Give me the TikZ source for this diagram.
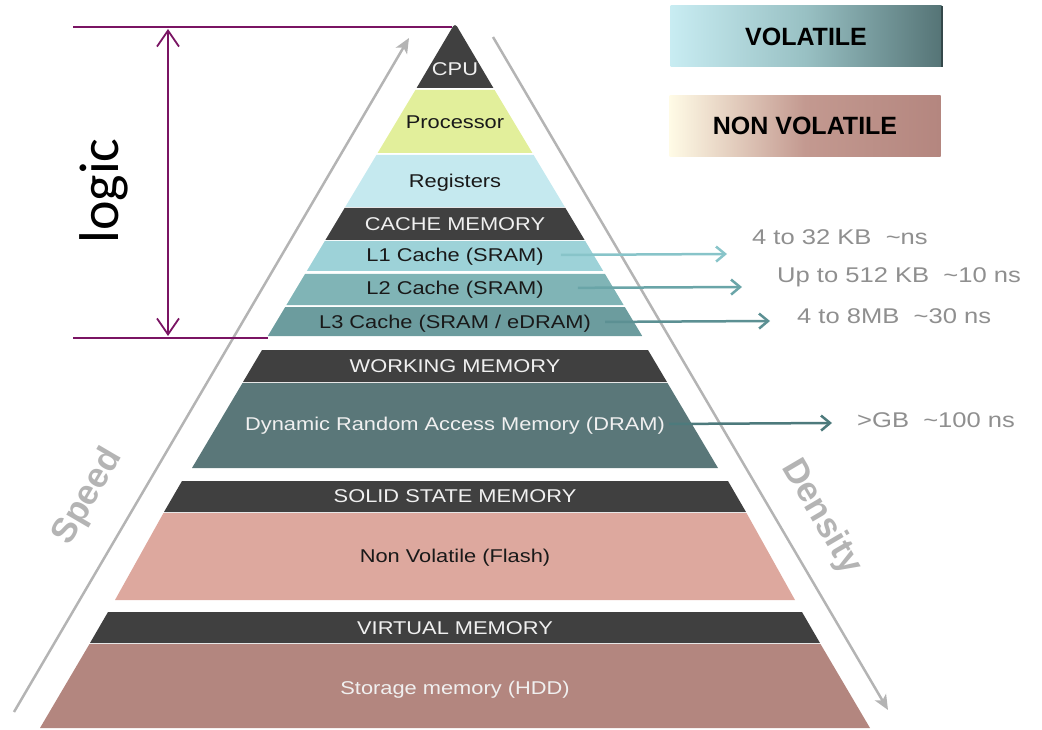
\documentclass[tikz,border=0pt]{standalone}
\usepackage{fontspec}
\setmainfont{Liberation Sans}
\newfontfamily\bandfont[FakeStretch=1.18]{Liberation Sans}
\newfontfamily\infofont[FakeStretch=1.2]{Liberation Sans}
\newfontfamily\logicfont{Carlito}
\usetikzlibrary{arrows.meta}

\definecolor{headgray}{HTML}{404040}
\definecolor{procgreen}{HTML}{E2EF9B}
\definecolor{regcyan}{HTML}{C5E9EF}
\definecolor{lonecol}{HTML}{9DD2D8}
\definecolor{ltwocol}{HTML}{80B4B6}
\definecolor{lthreecol}{HTML}{6C9C9E}
\definecolor{dramcol}{HTML}{5A7779}
\definecolor{flashcol}{HTML}{DDA89E}
\definecolor{hddcol}{HTML}{B3867F}
\definecolor{infogray}{HTML}{8F8F8F}
\definecolor{sidegray}{HTML}{B4B4B4}
\definecolor{logicpurple}{HTML}{7A1463}
\definecolor{arrowone}{HTML}{88C4C9}
\definecolor{arrowtwo}{HTML}{6AA5A8}
\definecolor{arrowthree}{HTML}{5C9093}
\definecolor{arrowfour}{HTML}{4D7A7C}
\definecolor{volleft}{HTML}{C8ECF2}
\definecolor{volmid}{HTML}{98C0C3}
\definecolor{volright}{HTML}{557476}
\definecolor{voledge}{HTML}{34484A}
\definecolor{nvleft}{HTML}{FFFBE6}
\definecolor{nvmid}{HTML}{C39990}
\definecolor{nvright}{HTML}{B4867F}

\tikzstyle{bandtext} = [font=\bandfont\fontsize{18.5}{22}\selectfont, text=black!90, text height=13pt, text depth=0pt, inner sep=2pt]
\tikzstyle{headtext} = [bandtext, text=white!94!black]
\tikzstyle{infotext} = [font=\infofont\fontsize{21.3}{25}\selectfont, text=infogray, anchor=west, inner sep=0pt, text height=15pt, text depth=0pt]
\tikzstyle{infoarrow} = [line width=2.5pt, -{Straight Barb[length=9pt,width=15pt]}]
\tikzstyle{sidearrow} = [sidegray, line width=2.5pt, -{Stealth[length=15pt,width=13pt,inset=4pt]}]
\tikzstyle{sidetext} = [text=sidegray, font=\bfseries\fontsize{35}{42}\selectfont]
\tikzstyle{legendbox} = [minimum width=271pt, minimum height=61pt, inner sep=0pt, font=\bfseries\fontsize{25}{30}\selectfont]
\tikzstyle{logicarrow} = [logicpurple, line width=1.8pt, {Straight Barb[length=16pt,width=22pt]}-{Straight Barb[length=16pt,width=22pt]}]

\begin{document}
\begin{tikzpicture}[x=1pt, y=-1pt]
    \useasboundingbox (0,0) rectangle (1042,730);

    % speed and density
    \coordinate (speedtail) at (14,712);
    \coordinate (speedtip) at (409,38);
    \coordinate (densitytail) at (493,37);
    \coordinate (densitytip) at (888,710);
    \draw [sidearrow] (speedtail) -- (speedtip);
    \draw [sidearrow] (densitytail) -- (densitytip);
    \node (speed) [sidetext, rotate=59.6] at (88,497) {Speed};
    \node (density) [sidetext, rotate=-59.6] at (821,517) {Density};

    % pyramid
    \fill [headgray] (416.6,88) [rounded corners=4pt] -- (455,23) [sharp corners] -- (493.4,88) -- cycle;
    \fill [procgreen] (415.4,90) -- (494.6,90) -- (532.4,153) -- (377.6,153) -- cycle;
    \fill [regcyan] (376.4,155) -- (533.6,155) -- (564.8,207) -- (345.2,207) -- cycle;
    \fill [headgray] (344.6,208) -- (565.4,208) -- (584.6,240) -- (325.4,240) -- cycle;
    \fill [lonecol] (324.8,241) -- (585.2,241) -- (603.2,271) -- (306.8,271) -- cycle;
    \fill [ltwocol] (305,274) -- (605,274) -- (623.6,305) -- (286.4,305) -- cycle;
    \fill [lthreecol] (285.2,307) -- (624.8,307) -- (642.2,336) -- (267.8,336) -- cycle;
    \fill [headgray] (262,350) -- (648,350) -- (667,382) -- (243,382) -- cycle;
    \fill [dramcol] (242.5,383) -- (667.5,383) -- (718,468) -- (192,468) -- cycle;
    \fill [headgray] (182,481) -- (728,481) -- (746,512) -- (164,512) -- cycle;
    \fill [flashcol] (163.5,513) -- (746.5,513) -- (795,600) -- (115,600) -- cycle;
    \fill [headgray] (108,612) -- (802,612) -- (820,643) -- (90,643) -- cycle;
    \fill [hddcol] (89.5,644) -- (820.5,644) -- (870,728) -- (40,728) -- cycle;

    \node (cpu) [headtext] at (455,69) {CPU};
    \node (processor) [bandtext] at (455,122) {Processor};
    \node (registers) [bandtext] at (455,181) {Registers};
    \node (cache) [headtext] at (455,224.5) {CACHE MEMORY};
    \node (l1) [bandtext] at (455,255) {L1 Cache (SRAM)};
    \node (l2) [bandtext] at (455,288) {L2 Cache (SRAM)};
    \node (l3) [bandtext] at (455,322) {L3 Cache (SRAM / eDRAM)};
    \node (working) [headtext] at (455,366) {WORKING MEMORY};
    \node (dram) [headtext] at (455,424) {Dynamic Random Access Memory (DRAM)};
    \node (solid) [headtext] at (455,496) {SOLID STATE MEMORY};
    \node (flash) [bandtext] at (455,556) {Non Volatile (Flash)};
    \node (virtual) [headtext] at (455,628) {VIRTUAL MEMORY};
    \node (hdd) [headtext] at (455,688) {Storage memory (HDD)};

    % sizes and latencies
    \node (l1info) [infotext] at (752,237) {4 to 32 KB\ \ \textasciitilde ns};
    \node (l2info) [infotext] at (777,275) {Up to 512 KB\ \ \textasciitilde 10 ns};
    \node (l3info) [infotext] at (797,316) {4 to 8MB\ \ \textasciitilde 30 ns};
    \node (draminfo) [infotext] at (857,420) {>GB\ \ \textasciitilde 100 ns};

    \coordinate (l1tip) at (727,254);
    \coordinate (l2tip) at (742,287);
    \coordinate (l3tip) at (770,321);
    \coordinate (dramtip) at (832,423);
    \draw [infoarrow, arrowone, shorten <=15pt] (l1.east) -- (l1tip);
    \draw [infoarrow, arrowtwo, shorten <=32pt] (l2.east) -- (l2tip);
    \draw [infoarrow, arrowthree, shorten <=12pt] (l3.east) -- (l3tip);
    \draw [infoarrow, arrowfour, shorten <=2pt] (dram.east) -- (dramtip);

    % legend
    \node (volatile) [legendbox, left color=volleft, right color=volright, middle color=volmid] at (806,36.5) {VOLATILE};
    \draw [voledge, line width=2pt] (volatile.north east) -- (volatile.south east);
    \node (nonvolatile) [legendbox, left color=nvleft, right color=nvright, middle color=nvmid] at (805,126) {NON VOLATILE};

    % logic
    \coordinate (logictopleft) at (73,27);
    \coordinate (apex) at (452,27);
    \coordinate (logicbotleft) at (73,338);
    \coordinate (logicbotright) at (268,338);
    \coordinate (logicup) at (168,29);
    \coordinate (logicdown) at (168,336);
    \draw [logicpurple, line width=1.2pt] (logictopleft) -- (apex);
    \draw [logicpurple, line width=2.5pt] (logicbotleft) -- (logicbotright);
    \draw [logicarrow] (logicup) -- (logicdown);
    \node (logic) [rotate=90, font=\logicfont\fontsize{56}{60}\selectfont] at (104,191) {logic};
\end{tikzpicture}
\end{document}
